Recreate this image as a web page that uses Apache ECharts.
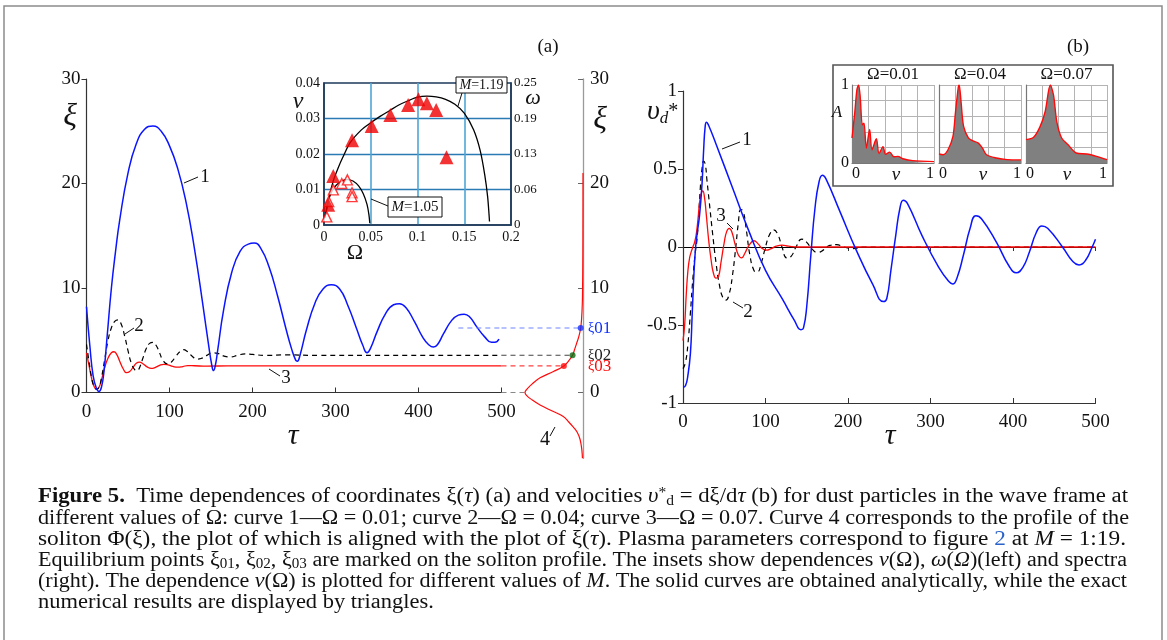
<!DOCTYPE html>
<html>
<head>
<meta charset="utf-8">
<script src="https://cdn.jsdelivr.net/npm/echarts@6/dist/echarts.min.js"></script>
<style>
html,body{margin:0;padding:0;background:#fff}
#c{width:1167px;height:640px}
</style>
</head>
<body>
<div id="c"></div>
<script>
// ---------- Panel (a): coordinate xi(tau) ----------
const tau1 = [0,4,8,12,15,18,21,25,30,35,40,50,60,70,80,90,100,110,120,130,140,147,151,153,155,158,165,175,185,195,202,210,220,230,240,247,252,254,257,265,275,285,295,305,315,325,333,338,342,350,360,370,377,385,395,405,412,418,423,430,440,448,455,462,470,480,488,492,497];
const xi1  = [8.2,4.5,1.6,0.4,0.1,0.5,2.0,5.5,10.0,13.5,16.5,21.0,23.8,25.2,25.5,25.0,23.6,21.4,18.2,13.8,8.5,4.6,2.6,2.1,2.5,4.0,7.8,11.5,13.5,14.2,14.3,13.8,12.0,9.3,6.2,4.2,3.1,3.0,3.5,6.0,8.5,9.9,10.3,9.9,8.3,6.2,4.5,3.8,4.2,5.8,7.5,8.4,8.5,8.1,6.8,5.3,4.6,4.35,4.6,5.6,6.9,7.4,7.5,7.2,6.3,5.3,4.8,4.8,5.1];

const tau2 = [0,3,6,9,12,15,18,22,26,30,34,38,42,46,50,54,58,61,64,68,72,76,80,84,88,92,97,102,108,113,117,121,127,133,138,145,152,158,165,173,182,191,200,215,240,280,350,500];
const xi2  = [4.6,3.0,1.5,0.6,0.3,0.5,1.4,3.2,5.0,6.2,6.8,6.95,6.5,5.4,4.0,2.8,2.2,2.1,2.4,3.3,4.2,4.7,4.8,4.5,3.8,3.1,2.75,2.9,3.5,3.95,4.1,3.95,3.5,3.2,3.25,3.55,3.8,3.75,3.5,3.4,3.55,3.7,3.65,3.55,3.6,3.55,3.56,3.56];

const tau3 = [0,3,6,9,12,15,18,22,26,30,33,36,40,44,48,52,56,60,64,68,73,78,83,88,93,98,104,110,116,122,130,145,170,500];
const xi3  = [3.8,2.6,1.4,0.6,0.35,0.5,1.2,2.4,3.3,3.8,3.9,3.7,3.0,2.3,1.9,2.0,2.4,2.8,2.9,2.75,2.45,2.3,2.4,2.6,2.7,2.65,2.5,2.42,2.48,2.58,2.56,2.52,2.55,2.54];

// curve 4: soliton profile Phi(xi), normalised to its peak
const solXi  = [-6.3,-5.5,-4.5,-3.8,-3.3,-2.8,-2.3,-1.8,-1.2,-0.7,-0.3,0,0.3,0.8,1.4,2.0,2.54,3.0,3.56,4.2,4.7,5.4,6.17,7,8.5,10,13,17,21];
const solPhi = [0.01,0.02,0.05,0.10,0.17,0.25,0.34,0.52,0.74,0.88,0.97,1.0,0.97,0.88,0.74,0.51,0.33,0.25,0.18,0.14,0.11,0.07,0.04,0.025,0.012,0.007,0.003,0.001,0];

// equilibrium points xi01, xi02, xi03 on the soliton profile
const eqXi   = [6.17, 3.56, 2.54];
const eqPhi  = [0.04, 0.18, 0.33];
const eqName = ['01', '02', '03'];
const eqTauStart = 448;   // where the xi01 guide line starts
const PHI_MAX = 1.405;    // left edge of the profile strip

// inset (a): nu(Omega), omega = 2*pi*nu
const omg119 = [0.001,0.003,0.006,0.01,0.015,0.02,0.028,0.04,0.05,0.06,0.07,0.08,0.09,0.10,0.11,0.12,0.13,0.14,0.15,0.16,0.167,0.172,0.175,0.1765,0.177];
const nu119  = [0.0022,0.0045,0.0085,0.0125,0.016,0.019,0.0232,0.0268,0.0288,0.0306,0.0322,0.0338,0.0350,0.0360,0.0363,0.0361,0.0354,0.0340,0.0315,0.0268,0.021,0.014,0.008,0.003,0.001];
const omg105 = [0.001,0.004,0.008,0.013,0.019,0.025,0.031,0.037,0.042,0.046,0.048,0.049];
const nu105  = [0.002,0.0062,0.0092,0.0112,0.0124,0.0128,0.0124,0.0110,0.0088,0.0058,0.003,0.0005];
const triFillOmg = [0.0045,0.0099,0.030,0.051,0.071,0.090,0.101,0.110,0.120,0.131];
const triFillNu  = [0.0057,0.0138,0.0239,0.0279,0.0310,0.0338,0.0354,0.0343,0.0324,0.0191];
const triOpenOmg = [0.003,0.005,0.010,0.019,0.025,0.030,0.030];
const triOpenNu  = [0.0023,0.0066,0.0099,0.0117,0.0127,0.0091,0.0080];
const omegaTicks = ['0','0.06','0.13','0.19','0.25'];

// ---------- Panel (b): velocity v_d*(tau) ----------
const tauB1 = [0,3,6,9,11,13,15,17,20,23,25,27,28.5,31,40,60,80,100,120,135,143,146,150,155,160,165,169,173,190,210,230,243,247,252,258,263,267,272,290,310,322,327,332,340,348,355,362,380,395,404,412,420,428,435,442,460,472,480,488,496,500];
const vB1   = [-0.9,-0.89,-0.82,-0.68,-0.45,-0.2,-0.02,0.08,0.2,0.4,0.62,0.78,0.80,0.78,0.66,0.38,0.1,-0.15,-0.33,-0.47,-0.53,-0.52,-0.38,-0.05,0.25,0.42,0.46,0.44,0.23,-0.02,-0.24,-0.35,-0.33,-0.15,0.08,0.25,0.30,0.28,0.07,-0.13,-0.22,-0.237,-0.2,-0.05,0.12,0.20,0.18,0.03,-0.12,-0.165,-0.13,-0.03,0.09,0.135,0.12,0.0,-0.09,-0.115,-0.085,0.0,0.05];

const tauB2 = [0,3,6,9,12,15,17,19,21,23,25,27,29,32,36,40,44,48,52,56,60,64,67,70,73,77,81,86,90,95,100,105,110,115,120,126,131,137,144,150,156,163,170,178,186,195,205,220,500];
const vB2   = [-0.78,-0.74,-0.62,-0.42,-0.2,-0.03,0.05,0.2,0.38,0.5,0.55,0.53,0.43,0.28,0.08,-0.1,-0.24,-0.32,-0.34,-0.3,-0.18,0.0,0.15,0.24,0.23,0.1,-0.05,-0.15,-0.16,-0.1,0.0,0.08,0.11,0.08,0.0,-0.07,-0.06,0.0,0.05,0.03,-0.01,-0.035,-0.02,0.01,0.015,0.0,-0.01,0.0,0.0];

const tauB3 = [0,2,4,6,8,10,12,14,16,18,20,22,24,26,28,31,34,37,40,43,46,50,53,56,59,63,67,71,75,80,86,91,96,101,107,113,120,128,140,500];
const vB3   = [-0.6,-0.5,-0.3,-0.15,-0.07,-0.03,0.0,0.03,0.08,0.17,0.28,0.34,0.36,0.32,0.22,0.05,-0.08,-0.17,-0.2,-0.19,-0.1,0.03,0.1,0.12,0.1,0.02,-0.05,-0.07,-0.04,0.01,0.04,0.02,-0.01,-0.02,-0.01,0.005,0.012,0.005,0.0,0.0];

// inset (b): normalised spectra A(nu)
const specTitles = ['Ω=0.01','Ω=0.04','Ω=0.07'];
const specNu1 = [0,0.033,0.06,0.08,0.10,0.126,0.146,0.175,0.215,0.244,0.297,0.33,0.378,0.41,0.46,0.51,0.56,0.62,0.74,1.0];
const specA1  = [0.32,0.64,0.94,1.0,0.85,0.49,0.51,0.19,0.43,0.17,0.31,0.12,0.21,0.11,0.14,0.08,0.085,0.055,0.03,0.017];
const specNu2 = [0,0.05,0.11,0.17,0.20,0.235,0.246,0.27,0.30,0.36,0.42,0.48,0.53,0.58,0.70,0.83,1.0];
const specA2  = [0.115,0.106,0.17,0.34,0.64,0.97,1.0,0.77,0.47,0.32,0.28,0.255,0.19,0.106,0.064,0.043,0.04];
const specNu3 = [0,0.094,0.175,0.237,0.30,0.34,0.38,0.44,0.52,0.62,0.75,0.87,1.0];
const specA3  = [0.30,0.33,0.47,0.66,1.0,0.87,0.53,0.32,0.234,0.128,0.115,0.085,0.043];

// ---------- helpers ----------
const FONT = '"Liberation Serif", "DejaVu Serif", serif';
const BLUE = '#0a14ff', RED = '#ff0a0a', INK = '#111';
const pairs = (xs, ys) => xs.map((x, i) => [x, ys[i]]);

const chart = echarts.init(document.getElementById('c'), null, {renderer: 'canvas'});

const lbl = (size, extra) => Object.assign({fontFamily: FONT, fontSize: size, color: INK}, extra || {});

const grids = [
  {left: 86.5, top: 79, width: 415, height: 313.5},           // 0: panel a
  {left: 501.5, top: 79, width: 81.5, height: 379.3},         // 1: soliton strip
  {left: 324, top: 83, width: 187, height: 142, show: true, borderColor: '#1c3a5a', borderWidth: 1.5, backgroundColor: '#fff'}, // 2: inset a
  {left: 683, top: 91, width: 412.5, height: 312},            // 3: panel b
  {left: 852, top: 85, width: 82, height: 78},                // 4-6: spectra
  {left: 939, top: 85, width: 82, height: 78},
  {left: 1026, top: 85, width: 81, height: 78}
].map(g => Object.assign({outerBoundsMode: 'none', containLabel: false}, g));

const xAxes = [
  {gridIndex: 0, type: 'value', min: 0, max: 500, interval: 100,
   axisLine: {lineStyle: {color: '#333', width: 1.2}},
   axisTick: {inside: true, length: 5, lineStyle: {color: '#333'}},
   axisLabel: lbl(19, {margin: 10}), splitLine: {show: false}},
  {gridIndex: 1, type: 'value', min: 0, max: PHI_MAX, inverse: true, show: false},
  {gridIndex: 2, type: 'value', min: 0, max: 0.2, interval: 0.05,
   axisLine: {lineStyle: {color: '#1c3a5a', width: 1.5}}, axisTick: {show: false},
   axisLabel: lbl(14, {margin: 5}),
   splitLine: {show: true, showMinLine: false, showMaxLine: false, lineStyle: {color: '#4ea6d6', width: 1.6}}},
  {gridIndex: 3, type: 'value', min: 0, max: 500, interval: 100,
   axisLine: {onZero: false, lineStyle: {color: '#333', width: 1.2}},
   axisTick: {inside: true, length: 5, lineStyle: {color: '#333'}},
   axisLabel: lbl(19, {margin: 10}), splitLine: {show: false}},
  {gridIndex: 3, type: 'value', min: 0, max: 500, interval: 100,
   axisLine: {onZero: true, lineStyle: {color: '#000', width: 1.2}},
   axisTick: {inside: true, length: 4, lineStyle: {color: '#333'}},
   axisLabel: {show: false}, splitLine: {show: false}}
];
const yAxes = [
  {gridIndex: 0, type: 'value', min: 0, max: 30, interval: 10,
   axisLine: {show: true, lineStyle: {color: '#333', width: 1.2}},
   axisTick: {show: true, length: 5, lineStyle: {color: '#333'}},
   axisLabel: lbl(19, {margin: 6}), splitLine: {show: false}},
  {gridIndex: 1, type: 'value', position: 'right', min: -6.3, max: 30,
   axisLine: {show: true, lineStyle: {color: '#9a9a9a', width: 1.3}},
   axisTick: {show: true, inside: true, length: 5, customValues: [0, 10, 20, 30], lineStyle: {color: '#666'}},
   axisLabel: lbl(19, {margin: 7, customValues: [0, 10, 20, 30]}), splitLine: {show: false}},
  {gridIndex: 2, type: 'value', min: 0, max: 0.04, interval: 0.01,
   axisLine: {show: true, lineStyle: {color: '#1c3a5a', width: 1.5}}, axisTick: {show: false},
   axisLabel: lbl(14, {margin: 4}),
   splitLine: {show: true, showMinLine: false, showMaxLine: false, lineStyle: {color: '#2a7ab3', width: 1.4}}},
  {gridIndex: 2, type: 'value', position: 'right', min: 0, max: 0.25, interval: 0.0625,
   axisLine: {show: true, lineStyle: {color: '#1c3a5a', width: 1.5}}, axisTick: {show: false},
   axisLabel: lbl(13, {margin: 3, formatter: v => omegaTicks[Math.round(v / 0.0625)]}),
   splitLine: {show: false}},
  {gridIndex: 3, type: 'value', min: -1, max: 1, interval: 0.5,
   axisLine: {show: true, lineStyle: {color: '#333', width: 1.2}},
   axisTick: {show: true, length: 5, lineStyle: {color: '#333'}},
   axisLabel: lbl(19, {margin: 6}), splitLine: {show: false}}
];

// spectra axes
for (let k = 0; k < 3; k++) {
  xAxes.push({gridIndex: 4 + k, type: 'value', min: 0, max: 1, interval: 0.2,
    axisLine: {lineStyle: {color: '#777', width: 1.2}}, axisTick: {show: false},
    axisLabel: lbl(16, {margin: 3, alignMinLabel: 'left', alignMaxLabel: 'right',
      formatter: v => (v === 0 ? '0' : (v === 1 ? '1' : ''))}),
    splitLine: {show: true, lineStyle: {color: '#b4b4b4', width: 1}}});
  yAxes.push({gridIndex: 4 + k, type: 'value', min: 0, max: 1, interval: 0.2,
    axisLine: {show: true, lineStyle: {color: '#777', width: 1.2}}, axisTick: {show: false},
    axisLabel: lbl(16, {show: k === 0, margin: 3, formatter: v => (v === 0 ? '0' : (v === 1 ? '1' : ''))}),
    splitLine: {show: true, lineStyle: {color: '#b4b4b4', width: 1}}});
}

const line = (xi, yi, data, color, width, extra) => Object.assign({
  type: 'line', xAxisIndex: xi, yAxisIndex: yi, data: data, symbol: 'none',
  lineStyle: {color: color, width: width}, smooth: 0.5,
  animation: false, z: 3
}, extra || {});

const eqColors = ['#1030ff', '#222', RED];

const series = [
  // panel a
  line(0, 0, pairs(tau3, xi3), RED, 1.3),
  line(0, 0, pairs(tau2, xi2), '#000', 1.2, {lineStyle: {color: '#000', width: 1.2, type: [5, 4]}}),
  line(0, 0, pairs(tau1, xi1), BLUE, 1.5),
  line(0, 0, [[eqTauStart, eqXi[0]], [500, eqXi[0]]], '#6f86ff', 1.1, {smooth: false, lineStyle: {color: '#6f86ff', width: 1.1, type: [5, 4]}}),
  // soliton strip: guide lines to the equilibrium points
  line(1, 1, [[PHI_MAX, 0], [solPhi[solXi.indexOf(0)], 0]], '#888', 1.1, {smooth: false, lineStyle: {color: '#888', width: 1.1, type: [5, 4]}}),
  line(1, 1, [[PHI_MAX, eqXi[0]], [eqPhi[0], eqXi[0]]], '#6f86ff', 1.1, {smooth: false, lineStyle: {color: '#6f86ff', width: 1.1, type: [5, 4]}}),
  line(1, 1, [[PHI_MAX, eqXi[1]], [eqPhi[1], eqXi[1]]], '#444', 1.1, {smooth: false, lineStyle: {color: '#444', width: 1.1, type: [5, 4]}}),
  line(1, 1, [[PHI_MAX, eqXi[2]], [eqPhi[2], eqXi[2]]], RED, 1.1, {smooth: false, lineStyle: {color: '#ff4040', width: 1.2, type: [5, 4]}}),
  line(1, 1, pairs(solPhi, solXi), RED, 1.2, {smooth: 0.4}),
  {type: 'scatter', xAxisIndex: 1, yAxisIndex: 1, symbolSize: 6, animation: false, z: 5,
   data: eqXi.map((x, i) => ({value: [eqPhi[i], x], itemStyle: {color: ['#1030ff', '#0c6a10', RED][i]}}))},
  // inset a
  line(2, 2, pairs(omg119, nu119), '#000', 1.3, {smooth: 0.3}),
  line(2, 2, pairs(omg105, nu105), '#000', 1.3, {smooth: 0.3}),
  {type: 'scatter', xAxisIndex: 2, yAxisIndex: 2, symbol: 'triangle', symbolSize: 10, animation: false, z: 6,
   itemStyle: {color: '#fff', borderColor: RED, borderWidth: 1.4}, data: pairs(triOpenOmg, triOpenNu)},
  {type: 'scatter', xAxisIndex: 2, yAxisIndex: 2, symbol: 'triangle', symbolSize: 14, animation: false, z: 6,
   itemStyle: {color: '#f00000'}, data: pairs(triFillOmg, triFillNu)},
  // panel b
  line(3, 4, pairs(tauB2, vB2), '#000', 1.2, {lineStyle: {color: '#000', width: 1.2, type: [5, 4]}}),
  line(3, 4, pairs(tauB3, vB3), RED, 1.3),
  line(3, 4, pairs(tauB1, vB1), BLUE, 1.5)
];
// spectra series
[[specNu1, specA1], [specNu2, specA2], [specNu3, specA3]].forEach((s, k) => {
  series.push(line(5 + k, 5 + k, pairs(s[0], s[1]), RED, 1.4, {smooth: 0.3,
    areaStyle: {color: '#808080', opacity: 1}}));
});

// ---------- texts and annotations ----------
const T = (x, y, text, size, extra) => ({type: 'text', x: x, y: y, z: 20,
  style: Object.assign({text: text, fill: INK, font: size + 'px ' + FONT, align: 'center', verticalAlign: 'middle'}, extra || {})});
const TI = (x, y, text, size, extra) => T(x, y, text, size, Object.assign({font: 'italic ' + size + 'px ' + FONT}, extra || {}));
const L = (x1, y1, x2, y2, color) => ({type: 'line', z: 20, shape: {x1: x1, y1: y1, x2: x2, y2: y2}, style: {stroke: color || '#111', lineWidth: 1}});

const graphics = [
  {type: 'rect', z: 0, shape: {x: 4, y: 6, width: 1158, height: 700}, style: {fill: 'none', stroke: '#8c8c8c', lineWidth: 1.5}},
  T(548, 47, '(a)', 19), T(1078, 47, '(b)', 19),
  TI(70, 117, 'ξ', 32), TI(600, 120, 'ξ', 32),
  TI(293, 436, 'τ', 30), TI(890, 436, 'τ', 30),
  // curve numbers, panel a
  T(205, 177, '1', 19), L(184, 183, 198, 177),
  T(139, 326, '2', 19), L(125, 334, 134, 328),
  T(286, 378, '3', 19), L(269, 369, 280, 376),
  T(545, 440, '4', 20), L(550, 436, 555, 427),
  // inset a labels
  TI(298, 102, 'ν', 24), TI(533, 98, 'ω', 22), T(355, 253, 'Ω', 22),
  {type: 'rect', z: 20, shape: {x: 456, y: 77, width: 51, height: 16}, style: {fill: '#fff', stroke: '#111', lineWidth: 1}},
  T(481.5, 85, '{i|M}=1.19', 14, {rich: {i: {fontStyle: 'italic', fontFamily: FONT, fontSize: 14}}}),
  L(462, 93, 458, 106),
  {type: 'rect', z: 20, shape: {x: 388, y: 197, width: 54, height: 20}, style: {fill: '#fff', stroke: '#111', lineWidth: 1}},
  T(415, 207, '{i|M}=1.05', 15, {rich: {i: {fontStyle: 'italic', fontFamily: FONT, fontSize: 15}}}),
  L(388, 206, 371, 199),
  // panel b labels
  {type: 'text', x: 647, y: 112, z: 20, style: {text: '{u|υ}{d|d}{s|*}', align: 'left', verticalAlign: 'middle',
    rich: {u: {fontStyle: 'italic', fontFamily: FONT, fontSize: 28, fill: INK, lineHeight: 30},
           d: {fontStyle: 'italic', fontFamily: FONT, fontSize: 17, fill: INK, verticalAlign: 'bottom', lineHeight: 14, padding: [8, 0, 0, 0]},
           s: {fontFamily: FONT, fontSize: 20, fill: INK, verticalAlign: 'middle', lineHeight: 16}}}},
  T(747, 140, '1', 19), L(722, 149, 740, 142),
  T(748, 312, '2', 19), L(733, 302, 743, 308),
  T(721, 216, '3', 19), L(727, 223, 733, 229),
  // inset b frame and labels
  {type: 'rect', z: 1, shape: {x: 833, y: 65, width: 280, height: 121}, style: {fill: 'none', stroke: '#555', lineWidth: 1.6}},
  TI(837, 113, 'A', 17),
  T(893, 75, specTitles[0], 17), T(980, 75, specTitles[1], 17), T(1066.5, 75, specTitles[2], 17),
  TI(896, 175, 'ν', 19), TI(983, 175, 'ν', 19), TI(1067, 175, 'ν', 19)
];

// ---------- caption ----------
const CS = 20.5;
const capStyles = {
  n: {font: CS + 'px ' + FONT, size: CS},
  b: {font: 'bold ' + CS + 'px ' + FONT, size: CS, weight: 'bold'},
  i: {font: 'italic ' + CS + 'px ' + FONT, size: CS, style: 'italic'},
  k: {font: CS + 'px ' + FONT, size: CS, color: '#2a62c9'},
  sub: {font: '14px ' + FONT, size: 14, va: 'bottom'},
  sup: {font: '14px ' + FONT, size: 14, va: 'top'}
};
const capLines = [
  [['b', 'Figure 5.'], ['n', '  Time dependences of coordinates ξ('], ['i', 'τ'], ['n', ') (a) and velocities '], ['i', 'υ'], ['sup', '*'], ['sub', 'd'], ['n', ' = dξ/d'], ['i', 'τ'], ['n', ' (b) for dust particles in the wave frame at']],
  [['n', 'different values of Ω: curve 1—Ω = 0.01; curve 2—Ω = 0.04; curve 3—Ω = 0.07. Curve 4 corresponds to the profile of the']],
  [['n', 'soliton Φ(ξ), the plot of which is aligned with the plot of ξ('], ['i', 'τ'], ['n', '). Plasma parameters correspond to figure '], ['k', '2'], ['n', ' at '], ['i', 'M'], ['n', ' = 1:19.']],
  [['n', 'Equilibrium points ξ'], ['sub', '01'], ['n', ', ξ'], ['sub', '02'], ['n', ', ξ'], ['sub', '03'], ['n', ' are marked on the soliton profile. The insets show dependences '], ['i', 'ν'], ['n', '(Ω), '], ['i', 'ω'], ['n', '('], ['i', 'Ω'], ['n', ')(left) and spectra']],
  [['n', '(right). The dependence '], ['i', 'ν'], ['n', '(Ω) is plotted for different values of '], ['i', 'M'], ['n', '. The solid curves are obtained analytically, while the exact']],
  [['n', 'numerical results are displayed by triangles.']]
];
const capRight = [1128, 1129, 1126, 1127, 1127, null];
const capX = 38, capY0 = 497, capStep = 21.2;
const mctx = document.createElement('canvas').getContext('2d');
const rich = {};
Object.keys(capStyles).forEach(k => {
  const s = capStyles[k];
  rich[k] = {fontFamily: FONT, fontSize: s.size, fontWeight: s.weight || 'normal', fontStyle: s.style || 'normal',
    fill: s.color || INK, verticalAlign: s.va || 'middle', lineHeight: s.va ? s.size : 22,
    padding: s.va === 'bottom' ? [8, 0, 0, 0] : (s.va === 'top' ? [0, 0, 6, 0] : 0)};
});
const widths = capLines.map(ln => ln.reduce((w, seg) => { mctx.font = capStyles[seg[0]].font; return w + mctx.measureText(seg[1]).width; }, 0));
const scales = widths.map((w, i) => capRight[i] ? (capRight[i] - capX) / w : null);
const used = scales.filter(s => s);
const avgScale = used.reduce((a, b) => a + b, 0) / used.length;
capLines.forEach((ln, i) => {
  graphics.push({type: 'text', x: capX, y: capY0 + i * capStep, z: 20, scaleX: scales[i] || avgScale, originX: 0,
    style: {text: ln.map(seg => '{' + seg[0] + '|' + seg[1] + '}').join(''), rich: rich, align: 'left', verticalAlign: 'middle'}});
});

chart.setOption({
  animation: false,
  backgroundColor: '#fff',
  textStyle: {fontFamily: FONT},
  grid: grids,
  xAxis: xAxes,
  yAxis: yAxes,
  series: series,
  graphic: {elements: graphics}
});

// names of the equilibrium points, placed beside the profile axis at each xi0
const eqLabels = eqXi.map((x, i) => {
  const p = chart.convertToPixel({xAxisIndex: 1, yAxisIndex: 1}, [0, x]);
  return {type: 'text', x: p[0] + 5, y: p[1] + 1, z: 20,
    style: {text: '{s|ξ}{n|' + eqName[i] + '}', align: 'left', verticalAlign: 'middle',
      rich: {s: {fontFamily: FONT, fontSize: 14, fill: eqColors[i], verticalAlign: 'top', lineHeight: 12},
             n: {fontFamily: FONT, fontSize: 17, fill: eqColors[i], verticalAlign: 'bottom', lineHeight: 16, padding: [6, 0, 0, 0]}}}};
});
chart.setOption({graphic: {elements: graphics.concat(eqLabels)}});
</script>
</body>
</html>
